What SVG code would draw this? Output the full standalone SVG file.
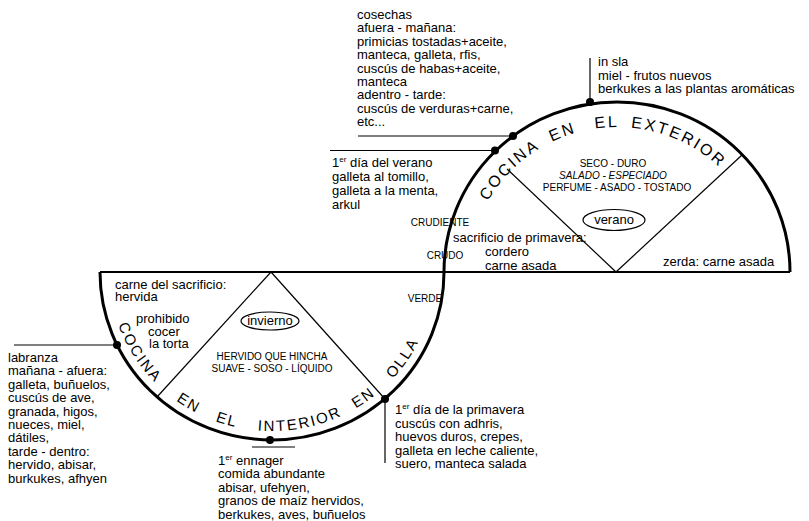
<svg xmlns="http://www.w3.org/2000/svg" width="809" height="521" viewBox="0 0 809 521">
<style>
  text { font-family: "Liberation Sans", Arial, sans-serif; fill: #000; }
  .t { font-size: 13px; }
  .cap { font-size: 10px; }
  .arc { font-size: 16px; letter-spacing: 2.3px; }
  .arc2 { font-size: 15px; letter-spacing: 2px; }
  .thick { fill: none; stroke: #000; stroke-width: 3; }
  .mid { fill: none; stroke: #000; stroke-width: 1.8; }
  .thin { fill: none; stroke: #000; stroke-width: 1.2; }
  .dot { fill: #000; }
  .sup { font-size: 8px; }
</style>
<defs>
  <path id="upperPath" d="M 469 272 A 148 145 0 0 1 765 272"/>
  <path id="lowerPath" d="M 109 272 A 163 159 0 0 0 435 272"/>
</defs>
<rect width="809" height="521" fill="#fff"/>

<g id="frame">
  <line class="mid" x1="100" y1="272" x2="790" y2="272"/>
  <path class="thick" d="M 444 272 A 173 170 0 0 1 790 272"/>
  <path class="thick" d="M 100 272 A 172 168 0 0 0 444 272"/>
  <line class="thin" x1="616" y1="272" x2="507" y2="169"/>
  <line class="thin" x1="616" y1="272" x2="742" y2="155"/>
  <line class="thin" x1="271" y1="272" x2="157" y2="397"/>
  <line class="thin" x1="271" y1="272" x2="385" y2="399"/>
</g>

<g id="connectors">
  <line class="thin" x1="590" y1="58" x2="590" y2="102"/>
  <line class="thin" x1="358" y1="136" x2="513" y2="136"/>
  <line class="thin" x1="330" y1="150.5" x2="495" y2="150.5"/>
  <line class="thin" x1="14" y1="345" x2="117" y2="345"/>
  <line class="thin" x1="252" y1="447" x2="295" y2="447"/>
  <line class="thin" x1="385" y1="399" x2="385" y2="463"/>
  <circle class="dot" cx="590" cy="102" r="4"/>
  <circle class="dot" cx="513" cy="136" r="4"/>
  <circle class="dot" cx="495" cy="150.5" r="4"/>
  <circle class="dot" cx="117" cy="345" r="4"/>
  <circle class="dot" cx="270" cy="440" r="4"/>
  <circle class="dot" cx="385" cy="399" r="4"/>
</g>

<g id="arc-exterior">
  <text class="arc" text-anchor="middle"><textPath href="#upperPath" startOffset="112">COCINA</textPath></text>
  <text class="arc" text-anchor="middle"><textPath href="#upperPath" startOffset="176">EN</textPath></text>
  <text class="arc" text-anchor="middle"><textPath href="#upperPath" startOffset="220">EL</textPath></text>
  <text class="arc" text-anchor="middle"><textPath href="#upperPath" startOffset="294">EXTERIOR</textPath></text>
</g>

<g id="arc-interior">
  <text class="arc2" text-anchor="middle"><textPath href="#lowerPath" startOffset="89">COCINA</textPath></text>
  <text class="arc2" text-anchor="middle"><textPath href="#lowerPath" startOffset="163">EN</textPath></text>
  <text class="arc2" text-anchor="middle"><textPath href="#lowerPath" startOffset="206">EL</textPath></text>
  <text class="arc2" text-anchor="middle"><textPath href="#lowerPath" startOffset="282">INTERIOR</textPath></text>
  <text class="arc2" text-anchor="middle"><textPath href="#lowerPath" startOffset="353">EN</textPath></text>
  <text class="arc2" text-anchor="middle"><textPath href="#lowerPath" startOffset="411">OLLA</textPath></text>
</g>

<g id="summer-sector">
  <text class="cap" x="613" y="167" text-anchor="middle">SECO - DURO</text>
  <text class="cap" x="613" y="179" text-anchor="middle" font-style="italic">SALADO - ESPECIADO</text>
  <text class="cap" x="617" y="191" text-anchor="middle">PERFUME - ASADO - TOSTADO</text>
  <ellipse class="thin" cx="614" cy="220" rx="31" ry="10.5"/>
  <text class="t" x="614" y="224" text-anchor="middle">verano</text>
  <text class="cap" x="440" y="226" text-anchor="middle">CRUDIENTE</text>
  <text class="cap" x="445" y="259" text-anchor="middle">CRUDO</text>
  <text class="cap" x="425" y="302" text-anchor="middle">VERDE</text>
  <text class="t" x="453" y="242">sacrificio de primavera:</text>
  <text class="t" x="485" y="256">cordero</text>
  <text class="t" x="485" y="270">carne asada</text>
  <text class="t" x="663" y="266">zerda: carne asada</text>
</g>

<g id="winter-sector">
  <text class="t" x="115" y="289">carne del sacrificio:</text>
  <text class="t" x="115" y="301">hervida</text>
  <text class="t" x="136" y="323">prohibido</text>
  <text class="t" x="148" y="336">cocer</text>
  <text class="t" x="149" y="348">la torta</text>
  <ellipse class="thin" cx="270" cy="321" rx="29" ry="9"/>
  <text class="t" x="270" y="325" text-anchor="middle">invierno</text>
  <text class="cap" x="272" y="360" text-anchor="middle">HERVIDO QUE HINCHA</text>
  <text class="cap" x="272" y="372" text-anchor="middle">SUAVE - SOSO - LÍQUIDO</text>
</g>

<g id="cosechas">
  <text class="t" x="357" y="19">cosechas</text>
  <text class="t" x="357" y="32.4">afuera - mañana:</text>
  <text class="t" x="357" y="45.8">primicias tostadas+aceite,</text>
  <text class="t" x="357" y="59.2">manteca, galleta, rfis,</text>
  <text class="t" x="357" y="72.6">cuscús de habas+aceite,</text>
  <text class="t" x="357" y="86">manteca</text>
  <text class="t" x="357" y="99.4">adentro - tarde:</text>
  <text class="t" x="357" y="112.8">cuscús de verduras+carne,</text>
  <text class="t" x="357" y="126.2">etc...</text>
</g>

<g id="in-sla">
  <text class="t" x="598" y="66">in sla</text>
  <text class="t" x="598" y="79.5">miel - frutos nuevos</text>
  <text class="t" x="598" y="93">berkukes a las plantas aromáticas</text>
</g>

<g id="verano-day">
  <text class="t" x="332" y="167">1<tspan class="sup" dy="-5">er</tspan><tspan dy="5"> día del verano</tspan></text>
  <text class="t" x="332" y="181">galleta al tomillo,</text>
  <text class="t" x="332" y="195">galleta a la menta,</text>
  <text class="t" x="332" y="209">arkul</text>
</g>

<g id="labranza">
  <text class="t" x="8" y="362">labranza</text>
  <text class="t" x="8" y="375.4">mañana - afuera:</text>
  <text class="t" x="8" y="388.8">galleta, buñuelos,</text>
  <text class="t" x="8" y="402.2">cuscús de ave,</text>
  <text class="t" x="8" y="415.6">granada, higos,</text>
  <text class="t" x="8" y="429">nueces, miel,</text>
  <text class="t" x="8" y="442.4">dátiles,</text>
  <text class="t" x="8" y="455.8">tarde - dentro:</text>
  <text class="t" x="8" y="469.2">hervido, abisar,</text>
  <text class="t" x="8" y="482.6">burkukes, afhyen</text>
</g>

<g id="primavera-day">
  <text class="t" x="395" y="414">1<tspan class="sup" dy="-5">er</tspan><tspan dy="5"> día de la primavera</tspan></text>
  <text class="t" x="395" y="427.5">cuscús con adhris,</text>
  <text class="t" x="395" y="441">huevos duros, crepes,</text>
  <text class="t" x="395" y="454.5">galleta en leche caliente,</text>
  <text class="t" x="395" y="468">suero, manteca salada</text>
</g>

<g id="ennager">
  <text class="t" x="218" y="465">1<tspan class="sup" dy="-5">er</tspan><tspan dy="5"> ennager</tspan></text>
  <text class="t" x="218" y="478.4">comida abundante</text>
  <text class="t" x="218" y="491.8">abisar, ufehyen,</text>
  <text class="t" x="218" y="505.2">granos de maíz hervidos,</text>
  <text class="t" x="218" y="518.6">berkukes, aves, buñuelos</text>
</g>
</svg>
